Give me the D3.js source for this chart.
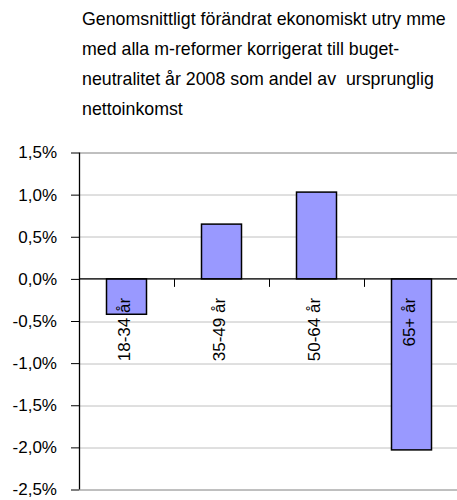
<!DOCTYPE html>
<html>
<head>
<meta charset="utf-8">
<script src="https://cdn.jsdelivr.net/npm/d3@7"></script>
<style>
  body { margin: 0; background: #fff; }
  svg text { font-family: "Liberation Sans", Arial, sans-serif; fill: #000; }
</style>
</head>
<body>
<div id="chart"></div>
<script>
const titleLines = [
    "Genomsnittligt förändrat ekonomiskt utry mme",
    "med alla m-reformer korrigerat till buget-",
    "neutralitet år 2008 som andel av  ursprunglig",
    "nettoinkomst"
];
const categories = ["18-34 år", "35-49 år", "50-64 år", "65+ år"];
const values = [-0.0042, 0.0065, 0.0103, -0.0203];
const yTicks = [0.015, 0.01, 0.005, 0, -0.005, -0.01, -0.015, -0.02, -0.025];

const W = 457, H = 500;
const margin = {top: 152.5, right: -2, bottom: 10.5, left: 79};
const width = W - margin.left - margin.right;
const height = H - margin.top - margin.bottom;

const svg = d3.select("#chart").append("svg")
    .attr("width", W)
    .attr("height", H);

svg.append("g").selectAll("text")
    .data(titleLines)
    .enter().append("text")
    .attr("x", 82)
    .attr("y", (d, i) => 25 + i * 30)
    .attr("font-size", 17.8)
    .style("white-space", "pre")
    .text(d => d);

const g = svg.append("g")
    .attr("transform", "translate(" + margin.left + "," + margin.top + ")");

const x = d3.scaleBand().domain(categories).range([0, width]).paddingInner(0).paddingOuter(0);
const y = d3.scaleLinear().domain([-0.025, 0.015]).range([height, 0]);

// gridlines
g.selectAll(".grid")
    .data(yTicks)
    .enter().append("line")
    .attr("class", "grid")
    .attr("x1", 0)
    .attr("x2", width)
    .attr("y1", d => Math.round(y(d)) + 0.5)
    .attr("y2", d => Math.round(y(d)) + 0.5)
    .attr("stroke", d => (d === 0.015 || d === -0.025) ? "#808080" : "#c0c0c0")
    .attr("stroke-width", 1);

// y axis
const fmt = d => d3.format(".1f")(d * 100).replace(".", ",").replace("−", "-") + "%";
const yAxis = g.append("g")
    .call(d3.axisLeft(y).tickValues(yTicks).tickSize(8).tickPadding(14).tickFormat(fmt));
yAxis.select(".domain").attr("stroke", "#000").attr("stroke-width", 1.3).attr("d", "M0.5," + y(0.015) + "V" + y(-0.025));
yAxis.selectAll(".tick line").attr("stroke", "#000");
yAxis.selectAll(".tick text").attr("font-size", 17).attr("font-family", "Liberation Sans, Arial, sans-serif");

// bars
g.selectAll(".bar")
    .data(values)
    .enter().append("rect")
    .attr("class", "bar")
    .attr("x", (d, i) => x(categories[i]) + (x.bandwidth() - 40) / 2)
    .attr("width", 40)
    .attr("y", d => y(Math.max(0, d)))
    .attr("height", d => Math.abs(y(d) - y(0)))
    .attr("fill", "#9999ff")
    .attr("stroke", "#000")
    .attr("stroke-width", 1.5);

// x axis at zero
const xAxis = g.append("g")
    .attr("transform", "translate(0," + y(0) + ")");
xAxis.append("line")
    .attr("x1", 0).attr("x2", width)
    .attr("stroke", "#000").attr("stroke-width", 1.3);
xAxis.selectAll(".xtick")
    .data(categories.slice(1))
    .enter().append("line")
    .attr("class", "xtick")
    .attr("x1", d => x(d) + 0.5).attr("x2", d => x(d) + 0.5)
    .attr("y1", 0).attr("y2", 8)
    .attr("stroke", "#000");

xAxis.selectAll(".xlabel")
    .data(categories)
    .enter().append("text")
    .attr("class", "xlabel")
    .attr("font-size", 17)
    .attr("text-anchor", "end")
    .attr("dy", "0.35em")
    .attr("transform", d => "translate(" + (x(d) + x.bandwidth() / 2 - 2) + ",19) rotate(-90)")
    .text(d => d);
</script>
</body>
</html>
